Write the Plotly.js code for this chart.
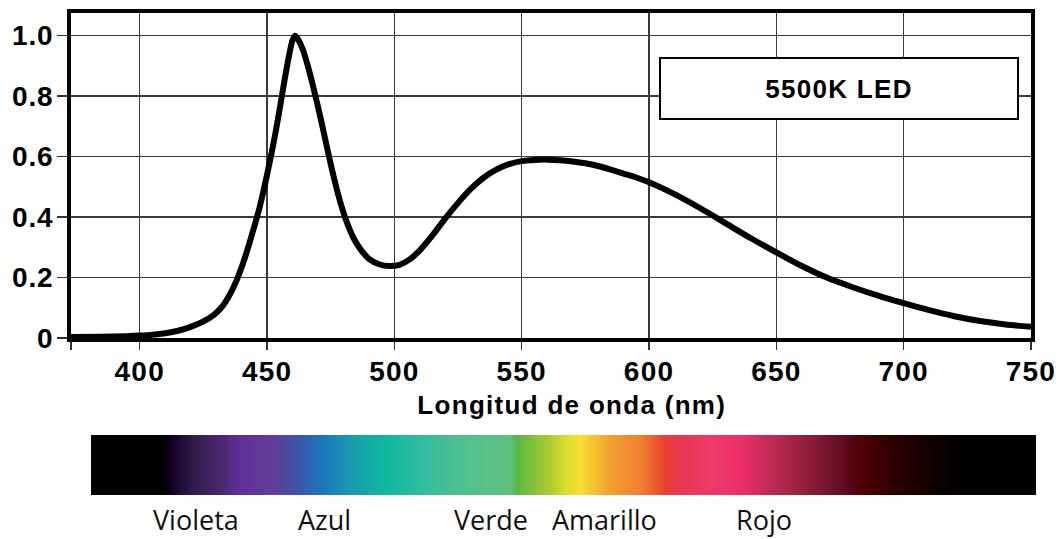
<!DOCTYPE html>
<html>
<head>
<meta charset="utf-8">
<script src="https://cdn.plot.ly/plotly-3.0.1.min.js"></script>
<style>
html,body{margin:0;padding:0;background:#fff;}
#chart{width:1064px;height:539px;}
#chart .xtick text{letter-spacing:1.2px;}
#chart .ytick text{letter-spacing:0.8px;}
#chart g.annotation[data-index="0"] .annotation-text,
#chart g.annotation[data-index="1"] .annotation-text{letter-spacing:1.3px;}
</style>
</head>
<body>
<div id="chart"></div>
<script>
// Spectral power distribution of a 5500K LED (relative)
const wavelengthNm = [373, 385, 395, 400, 405, 410, 415, 420, 425, 429, 432, 435, 438, 441, 444, 447, 450, 453, 455, 457, 459, 460, 461, 462, 464, 466, 468, 470, 472, 475, 478, 481, 484, 487, 490, 494, 498, 502, 506, 510, 515, 520, 525, 530, 535, 540, 545, 550, 555, 560, 565, 570, 575, 580, 585, 590, 595, 600, 610, 620, 630, 640, 650, 660, 670, 680, 690, 700, 710, 720, 730, 740, 750];
const relativePower = [0.003, 0.004, 0.006, 0.008, 0.011, 0.016, 0.024, 0.037, 0.055, 0.076, 0.100, 0.138, 0.19, 0.258, 0.34, 0.43, 0.54, 0.665, 0.76, 0.86, 0.95, 0.985, 1.0, 0.99, 0.955, 0.90, 0.835, 0.765, 0.69, 0.575, 0.472, 0.39, 0.33, 0.29, 0.262, 0.244, 0.238, 0.242, 0.26, 0.29, 0.34, 0.396, 0.447, 0.493, 0.53, 0.557, 0.575, 0.585, 0.589, 0.59, 0.588, 0.584, 0.578, 0.569, 0.557, 0.544, 0.531, 0.515, 0.476, 0.43, 0.38, 0.33, 0.283, 0.238, 0.199, 0.168, 0.14, 0.115, 0.092, 0.072, 0.056, 0.045, 0.037];

const xTickVals = [373, 400, 450, 500, 550, 600, 650, 700, 750];
const xTickText = ['', '400', '450', '500', '550', '600', '650', '700', '750'];
const yTickVals = [0, 0.2, 0.4, 0.6, 0.8, 1.0];
const yTickText = ['0', '0.2', '0.4', '0.6', '0.8', '1.0'];

const seriesName = '5500K LED';
const xTitle = 'Longitud de onda (nm)';

// Visible spectrum strip (position along the strip, colour)
const spectrumPos = [0, 0.075, 0.084, 0.105, 0.142, 0.158, 0.195, 0.221, 0.242, 0.274, 0.311, 0.348, 0.391, 0.443, 0.451, 0.486, 0.502, 0.517, 0.528, 0.549, 0.581, 0.607, 0.623, 0.655, 0.687, 0.718, 0.750, 0.787, 0.813, 0.845, 0.877, 0.920, 1];
const spectrumColors = ['#000000','#000000','#100020','#2d1a45','#4f2a78','#62309a','#5e3f9a','#3a58a8','#1a75c0','#1a9ab0','#10b8a0','#30bca0','#50c090','#60c080','#5ab840','#b0cc30','#d8dc30','#f8e030','#f8c830','#f0a030','#f08030','#e84030','#e83850','#ee3a68','#ee2e6a','#c02c58','#9a2040','#6a1028','#500008','#300000','#180000','#000000','#000000'];

// Colour names under the strip and the wavelength they sit at
const bandLabels = ['Violeta', 'Azul', 'Verde', 'Amarillo', 'Rojo'];
const bandCenters = [422, 472.5, 538, 582.5, 645];

const boldFont = {family: 'Liberation Sans, Arial, sans-serif', color: '#000', weight: 'bold'};

const traces = [
  {
    type: 'heatmap',
    x: spectrumPos,
    y: [0],
    z: [spectrumPos],
    zmin: 0, zmax: 1,
    colorscale: spectrumPos.map((p, i) => [p, spectrumColors[i]]),
    zsmooth: 'best',
    showscale: false,
    hoverinfo: 'skip',
    xaxis: 'x2', yaxis: 'y2'
  },
  {
    type: 'scatter',
    mode: 'lines',
    name: seriesName,
    x: wavelengthNm,
    y: relativePower,
    line: {color: '#000', width: 6, shape: 'spline', smoothing: 0.7},
    cliponaxis: false,
    xaxis: 'x', yaxis: 'y'
  }
];

const annotations = [
  {
    xref: 'paper', yref: 'paper', x: 0.7959, y: 0.8434,
    xanchor: 'center', yanchor: 'middle',
    text: seriesName, showarrow: false,
    font: Object.assign({size: 26}, boldFont),
    width: 354, height: 57,
    bordercolor: '#000', borderwidth: 2, borderpad: 1, bgcolor: '#fff'
  },
  {
    xref: 'paper', yref: 'paper', x: 0.5187, y: 0.187,
    xanchor: 'center', yanchor: 'middle',
    text: xTitle, showarrow: false,
    font: Object.assign({size: 26}, boldFont)
  }
].concat(bandLabels.map((t, i) => ({
  xref: 'x', yref: 'paper', x: bandCenters[i], y: -0.050,
  xanchor: 'center', yanchor: 'middle',
  text: t, showarrow: false,
  font: {family: 'Open Sans, Noto Sans, sans-serif', size: 27, color: '#111'}
})));

const layout = {
  width: 1064, height: 539,
  margin: {l: 71, r: 28, t: 13, b: 44, pad: 0},
  paper_bgcolor: '#fff', plot_bgcolor: '#fff',
  showlegend: false,
  xaxis: {
    domain: [0, 0.9948],
    range: [373, 750],
    tickvals: xTickVals, ticktext: xTickText,
    ticks: 'outside', ticklen: 8, tickwidth: 1.3, tickcolor: '#333',
    ticklabelstandoff: -3,
    showgrid: true, gridcolor: '#3a3a3a', gridwidth: 1.3,
    zeroline: false,
    showline: true, linecolor: '#000', linewidth: 4, mirror: true,
    tickfont: Object.assign({size: 28}, boldFont),
    fixedrange: true
  },
  yaxis: {
    domain: [0.3257, 1],
    range: [0, 1.075],
    tickvals: yTickVals, ticktext: yTickText,
    ticks: 'outside', ticklen: 10, tickwidth: 1.3, tickcolor: '#333',
    ticklabelstandoff: -2,
    showgrid: true, gridcolor: '#3a3a3a', gridwidth: 1.3,
    zeroline: false,
    showline: true, linecolor: '#000', linewidth: 4, mirror: true,
    tickfont: Object.assign({size: 28}, boldFont),
    fixedrange: true
  },
  xaxis2: {
    domain: [0.0207, 1], range: [0, 1], anchor: 'y2',
    visible: false, fixedrange: true
  },
  yaxis2: {
    domain: [0, 0.1245], range: [-0.5, 0.5], anchor: 'x2',
    visible: false, fixedrange: true
  },
  annotations: annotations
};

Plotly.newPlot('chart', traces, layout, {staticPlot: true, displayModeBar: false});
</script>
</body>
</html>
